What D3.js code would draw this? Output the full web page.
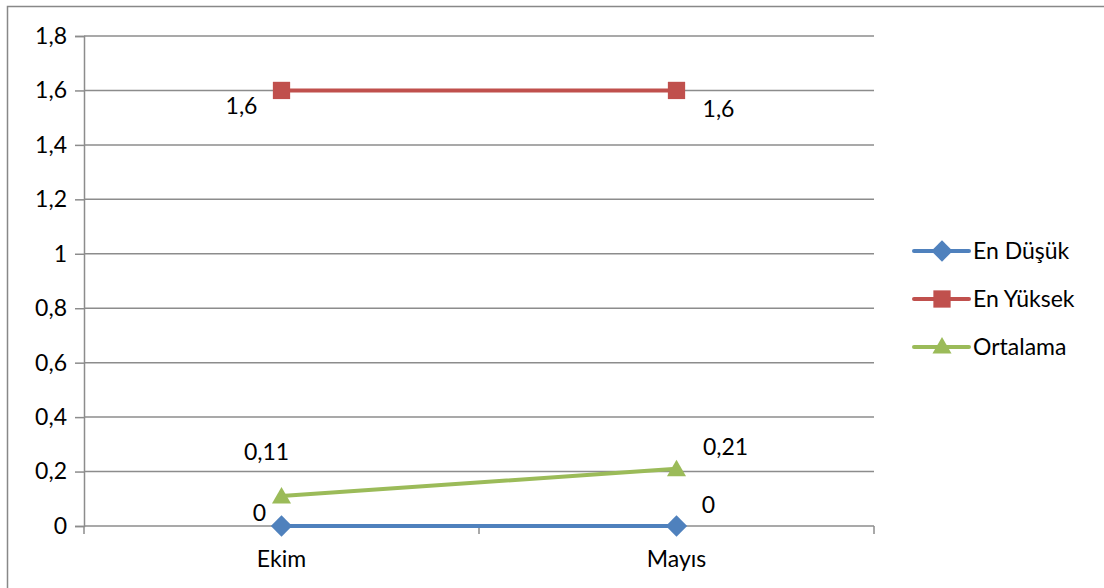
<!DOCTYPE html>
<html>
<head>
<meta charset="utf-8">
<script src="https://cdn.jsdelivr.net/npm/d3@7"></script>
<style>
  html, body { margin: 0; padding: 0; background: #fff; }
  svg { display: block; }
  text { font-family: Lato, "Noto Sans", sans-serif; font-size: 23px; fill: #000; }
</style>
</head>
<body>
<script>
// Chart data
const categories = ["Ekim", "Mayıs"];
const seriesNames = ["En Düşük", "En Yüksek", "Ortalama"];
const enDusuk = [0, 0];
const enYuksek = [1.6, 1.6];
const ortalama = [0.11, 0.21];
const yTicks = [0, 0.2, 0.4, 0.6, 0.8, 1, 1.2, 1.4, 1.6, 1.8];

const W = 1104, H = 588;
const plot = { left: 84, right: 874, top: 36, bottom: 526 };
const colors = ["#4F81BD", "#C0504D", "#9BBB59"];
const fontSize = 23;
const fmt = v => String(v).replace(".", ",");

const svg = d3.select("body").append("svg").attr("width", W).attr("height", H);

// Outer frame (top and left edges visible)
svg.append("path")
  .attr("d", `M7.5,${H} V6.5 H${W}`)
  .attr("fill", "none").attr("stroke", "#888").attr("stroke-width", 1.5);

const x = d3.scaleBand().domain(categories).range([plot.left, plot.right]).paddingInner(0).paddingOuter(0);
const y = d3.scaleLinear().domain([0, 1.8]).range([plot.bottom, plot.top]);
const cx = c => x(c) + x.bandwidth() / 2;

// Horizontal gridlines
svg.append("g").selectAll("line").data(yTicks).join("line")
  .attr("x1", plot.left).attr("x2", plot.right)
  .attr("y1", d => y(d)).attr("y2", d => y(d))
  .attr("stroke", "#8c8c8c").attr("stroke-width", 1.5);

// Y axis
const yAxis = svg.append("g").attr("transform", `translate(${plot.left},0)`)
  .call(d3.axisLeft(y).tickValues(yTicks).tickFormat(fmt).tickSize(9).tickPadding(8));
yAxis.select(".domain").attr("stroke", "#8c8c8c").attr("stroke-width", 1.5);
yAxis.selectAll(".tick line").attr("stroke", "#8c8c8c").attr("stroke-width", 1.5);
yAxis.selectAll("text").attr("font-family", "Lato, 'Noto Sans', sans-serif").attr("font-size", fontSize).attr("fill", "#000");

// X axis with boundary ticks
const xAxis = svg.append("g").attr("transform", `translate(0,${plot.bottom})`)
  .call(d3.axisBottom(x).tickSize(0).tickPadding(25));
xAxis.select(".domain").remove();
xAxis.selectAll("text").attr("font-family", "Lato, 'Noto Sans', sans-serif").attr("font-size", fontSize).attr("fill", "#000");
const bounds = [plot.left, ...categories.map(c => x(c) + x.bandwidth())];
xAxis.selectAll("line.bound").data(bounds).join("line").attr("class", "bound")
  .attr("x1", d => d).attr("x2", d => d).attr("y1", 0).attr("y2", 8)
  .attr("stroke", "#8c8c8c").attr("stroke-width", 1.5);

// Marker symbols
const markerSym = [
  d3.symbol().type(d3.symbolDiamond2).size(290),
  d3.symbol().type(d3.symbolSquare2).size(380),
  d3.symbol().type(d3.symbolTriangle2).size(260)
];

const allSeries = [enDusuk, enYuksek, ortalama];
const line = d3.line().x((d, i) => cx(categories[i])).y(d => y(d));

allSeries.forEach((vals, s) => {
  svg.append("path").datum(vals)
    .attr("d", line).attr("fill", "none")
    .attr("stroke", colors[s]).attr("stroke-width", 4).attr("stroke-linecap", "round");
  svg.append("g").selectAll("path").data(vals).join("path")
    .attr("transform", (d, i) => `translate(${cx(categories[i])},${y(d) + (s === 2 ? 2 : 0)})`)
    .attr("d", markerSym[s]).attr("fill", colors[s]);
});

// Data labels: [series, point index, dx, dy, anchor]
const labelPos = [
  [0, 0, -22, -5, "middle"], [0, 1, 32, -13, "middle"],
  [1, 0, -40, 24, "middle"], [1, 1, 42, 27, "middle"],
  [2, 0, -15, -36, "middle"], [2, 1, 49, -14, "middle"]
];
svg.append("g").selectAll("text").data(labelPos).join("text")
  .attr("x", d => cx(categories[d[1]]) + d[2])
  .attr("y", d => y(allSeries[d[0]][d[1]]) + d[3])
  .attr("text-anchor", d => d[4])
  .text(d => fmt(allSeries[d[0]][d[1]]));

// Legend
const legend = svg.append("g").attr("transform", "translate(914,251)");
seriesNames.forEach((name, s) => {
  const g = legend.append("g").attr("transform", `translate(0,${s * 48})`);
  g.append("line").attr("x1", 0).attr("x2", 55).attr("y1", 0).attr("y2", 0)
    .attr("stroke", colors[s]).attr("stroke-width", 4).attr("stroke-linecap", "round");
  g.append("path").attr("transform", `translate(28,${s === 2 ? 1 : 0})`).attr("d", markerSym[s]).attr("fill", colors[s]);
  g.append("text").attr("x", 59).attr("y", 0).attr("dy", "0.35em").text(name);
});
</script>
</body>
</html>
